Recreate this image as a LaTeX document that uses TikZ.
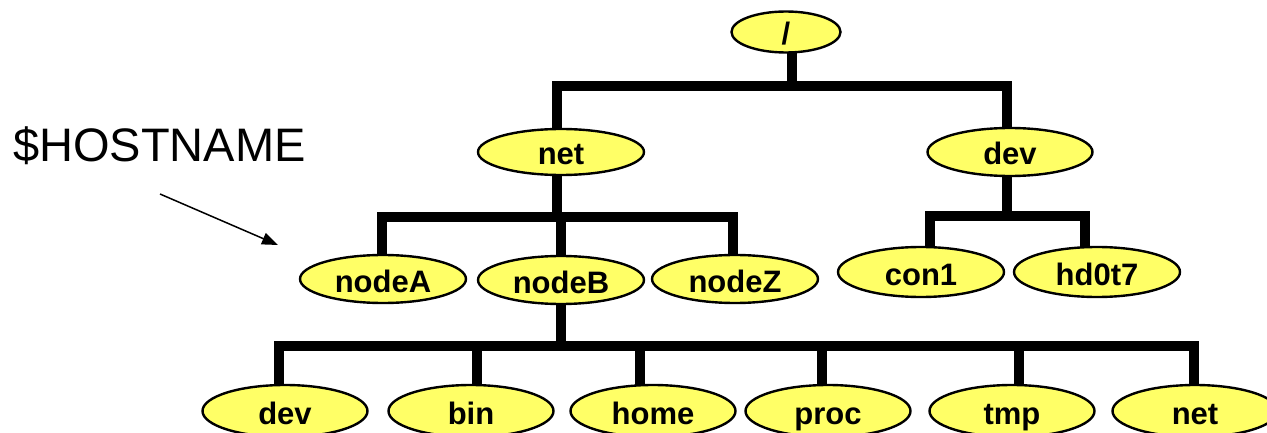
\documentclass[tikz,border=0pt]{standalone}
\usepackage{fontspec}
\setmainfont{Liberation Sans}
\usetikzlibrary{shapes.geometric,arrows.meta,backgrounds}
\definecolor{dirfill}{HTML}{FFFF66}
\tikzset{
  dir/.style={ellipse, draw=black, line width=2.4pt, fill=dirfill, inner sep=0pt,
    minimum width=166pt, minimum height=48pt,
    font=\fontsize{31}{37}\bfseries\selectfont, text height=26pt, text depth=0pt},
  wire/.style={line width=9.5pt, line join=miter, line cap=butt},
  pointer/.style={line width=1.5pt, -{Triangle[length=16pt,width=12pt]}},
}
\begin{document}
\begin{tikzpicture}[x=1pt,y=-1pt]
\useasboundingbox (0,0) rectangle (1267,433);

% directory nodes
\node[dir, minimum width=109pt, minimum height=41pt] (root) at (786,32) {/};
\node[dir, minimum height=46pt] (net) at (561,152) {net};
\node[dir, minimum width=165pt] (dev) at (1010,152) {dev};

\node[dir] (nodeA) at (383,279) {nodeA};
\node[dir] (nodeB) at (561,280) {nodeB};
\node[dir] (nodeZ) at (735,279) {nodeZ};
\node[dir, minimum height=50pt] (con1) at (921,272) {con1};
\node[dir, minimum height=50pt] (hd0t7) at (1097,272) {hd0t7};

\node[dir, minimum width=165pt, minimum height=52pt] (sdev)  at (285,411) {dev};
\node[dir, minimum width=165pt, minimum height=52pt] (sbin)  at (471,411) {bin};
\node[dir, minimum width=165pt, minimum height=52pt] (shome) at (653,411) {home};
\node[dir, minimum width=165pt, minimum height=52pt] (sproc) at (828,411) {proc};
\node[dir, minimum width=165pt, minimum height=52pt] (stmp)  at (1012,411) {tmp};
\node[dir, minimum width=165pt, minimum height=52pt] (snet)  at (1195,411) {net};

% bus junctions
\coordinate (jroot) at (792,86);
\coordinate (jnet) at (557,217);
\coordinate (jdev) at (1007,216);
\coordinate (jnodeB) at (561,346);

% tree connectors, kept behind the ellipses
\begin{pgfonlayer}{background}
  \draw[wire] ([xshift=6pt]root.center) -- (jroot);
  \draw[wire] ([xshift=-4pt]net.center) |- (jroot);
  \draw[wire] ([xshift=-3pt]dev.center) |- (jroot);

  \draw[wire] ([xshift=-4pt]net.center) -- (jnet);
  \draw[wire] ([xshift=-1pt]nodeA.center) |- (jnet);
  \draw[wire] (nodeB.center) |- (jnet);
  \draw[wire] ([xshift=-2pt]nodeZ.center) |- (jnet);

  \draw[wire] ([xshift=-3pt]dev.center) -- (jdev);
  \draw[wire] ([xshift=9pt]con1.center) |- (jdev);
  \draw[wire] ([xshift=-12pt]hd0t7.center) |- (jdev);

  \draw[wire] (nodeB.center) -- (jnodeB);
  \draw[wire] ([xshift=-6pt]sdev.center) |- (jnodeB);
  \draw[wire] ([xshift=6pt]sbin.center) |- (jnodeB);
  \draw[wire] ([xshift=-13pt]shome.center) |- (jnodeB);
  \draw[wire] ([xshift=-6pt]sproc.center) |- (jnodeB);
  \draw[wire] ([xshift=7pt]stmp.center) |- (jnodeB);
  \draw[wire] ([xshift=-1pt]snet.center) |- (jnodeB);
\end{pgfonlayer}

% label pointing at the host level
\node[anchor=base west, inner sep=0pt, font=\fontsize{47}{56}\selectfont] (host) at (13,162) {\$HOSTNAME};
\coordinate (hoststart) at (160,194);
\coordinate (hosttip) at (278,245);
\draw[pointer] (hoststart) -- (hosttip);
\end{tikzpicture}
\end{document}
